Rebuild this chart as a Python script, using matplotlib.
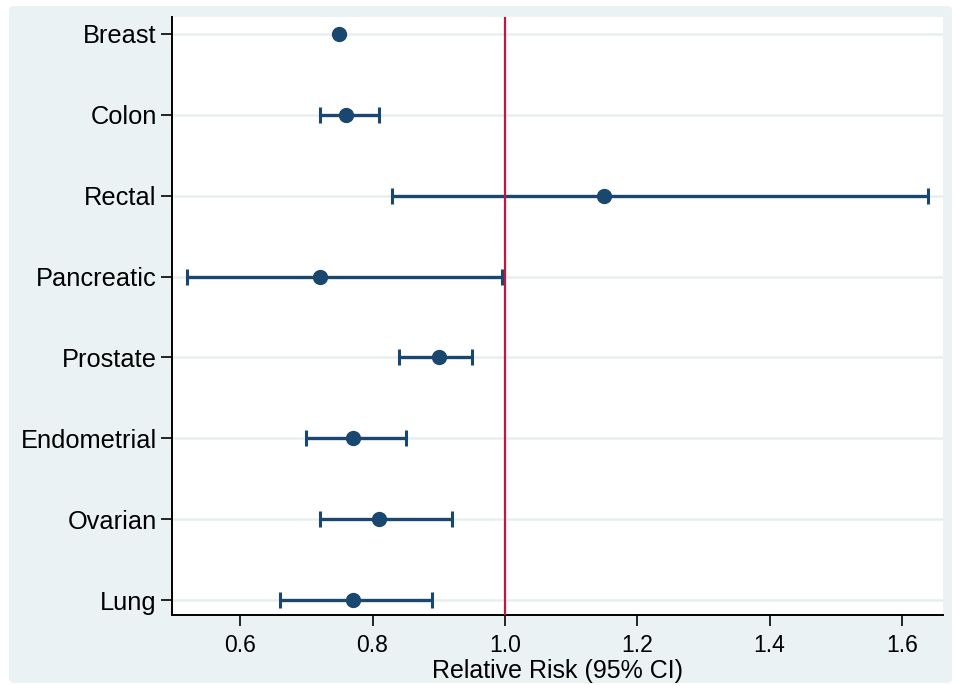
import numpy as np
import matplotlib.pyplot as plt
from matplotlib.patches import FancyBboxPatch

# data
sites = ['Breast', 'Colon', 'Rectal', 'Pancreatic', 'Prostate', 'Endometrial', 'Ovarian', 'Lung']
rr = [0.75, 0.76, 1.15, 0.72, 0.90, 0.77, 0.81, 0.77]
ci_low = [np.nan, 0.72, 0.83, 0.52, 0.84, 0.70, 0.72, 0.66]
ci_high = [np.nan, 0.81, 1.64, 0.995, 0.95, 0.85, 0.92, 0.89]
xticks = [0.6, 0.8, 1.0, 1.2, 1.4, 1.6]

plt.rcParams['font.family'] = ['Liberation Sans', 'DejaVu Sans']

navy = '#1a476f'
bg = '#eaf2f3'

fig = plt.figure(figsize=(9.58, 6.85), dpi=100, facecolor='white')
# stata-like graph region
fig.patches.append(FancyBboxPatch((9 / 958, 1 - 683 / 685), 943 / 958, 677 / 685,
                                  boxstyle='round,pad=0,rounding_size=0.006',
                                  transform=fig.transFigure, facecolor=bg,
                                  edgecolor='none', zorder=-5))

ax = fig.add_axes([172 / 958, 1 - 615 / 685, 771 / 958, 598 / 685])
ax.set_zorder(1)
ax.set_facecolor('white')

y = np.arange(len(sites))[::-1]
rr = np.array(rr)
lo = np.array(ci_low)
hi = np.array(ci_high)
has_ci = ~np.isnan(lo)

for yy in y:
    ax.axhline(yy, color='#e8eef0', linewidth=1.8, zorder=1)

ax.errorbar(rr[has_ci], y[has_ci],
            xerr=[rr[has_ci] - lo[has_ci], hi[has_ci] - rr[has_ci]],
            fmt='none', ecolor=navy, elinewidth=2.4, capsize=5.5, capthick=2.2, zorder=3)
ax.plot(rr, y, 'o', color=navy, markersize=10, zorder=4)

ax.axvline(1.0, color='#c8143c', linewidth=1.6, zorder=5)

ax.set_xlim(0.497, 1.662)
ax.set_ylim(y.min() - 0.185, y.max() + 0.21)
ax.set_yticks(y)
ax.set_yticklabels(sites)
ax.set_xticks(xticks)
ax.set_xticklabels([f'{v:.1f}' for v in xticks])
ax.tick_params(axis='y', labelsize=18.3, length=8, width=1.2, pad=3)
ax.tick_params(axis='x', labelsize=16.5, length=8, width=1.2, pad=6)
ax.set_xlabel('Relative Risk (95% CI)', fontsize=18, labelpad=1)

for s in ['top', 'right']:
    ax.spines[s].set_visible(False)
for s in ['left', 'bottom']:
    ax.spines[s].set_linewidth(1.4)
    ax.spines[s].set_color('black')

fig.savefig('out.png', dpi=100, facecolor='white')
